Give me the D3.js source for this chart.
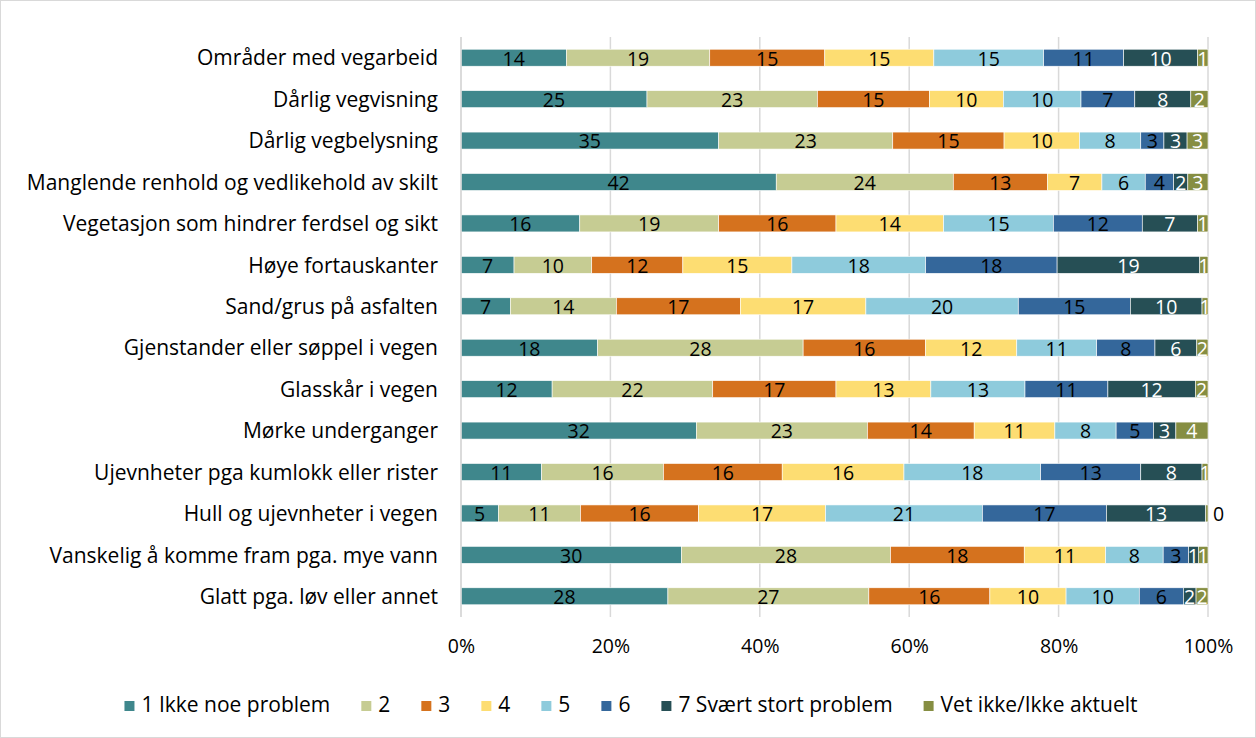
<!DOCTYPE html>
<html>
<head>
<meta charset="utf-8">
<title>Problemer</title>
<script src="https://d3js.org/d3.v7.min.js"></script>
<style>
  body { margin: 0; background: #fff; }
  svg text { font-family: "Open Sans", "Noto Sans", sans-serif; }
</style>
</head>
<body>
<div id="chart"></div>
<script>
// kategorier (ovenfra og ned)
const categories = [
  "Områder med vegarbeid",
  "Dårlig vegvisning",
  "Dårlig vegbelysning",
  "Manglende renhold og vedlikehold av skilt",
  "Vegetasjon som hindrer ferdsel og sikt",
  "Høye fortauskanter",
  "Sand/grus på asfalten",
  "Gjenstander eller søppel i vegen",
  "Glasskår i vegen",
  "Mørke underganger",
  "Ujevnheter pga kumlokk eller rister",
  "Hull og ujevnheter i vegen",
  "Vanskelig å komme fram pga. mye vann",
  "Glatt pga. løv eller annet"
];

const seriesNames = ["1 Ikke noe problem", "2", "3", "4", "5", "6", "7 Svært stort problem", "Vet ikke/Ikke aktuelt"];
const colors = ["#3f878c", "#c6cc93", "#d5721e", "#fddd72", "#8ecbdc", "#34679b", "#264f55", "#868e42"];
const labelColors = ["#000", "#000", "#000", "#000", "#000", "#000", "#fff", "#fff"];

// prosent per serie (avlest), samme rekkefølge som categories
const s1 = [14.1, 24.9, 34.5, 42.2, 15.9, 7.1, 6.6, 18.3, 12.2, 31.5, 10.8, 5.0, 29.5, 27.7];
const s2 = [19.2, 22.8, 23.3, 23.7, 18.6, 10.4, 14.2, 27.5, 21.5, 22.9, 16.3, 11.0, 28.0, 26.9];
const s3 = [15.4, 15.0, 14.9, 12.6, 15.7, 12.2, 16.6, 16.4, 16.5, 14.3, 15.9, 15.8, 17.9, 16.2];
const s4 = [14.6, 9.9, 10.1, 7.3, 14.4, 14.6, 16.8, 12.2, 12.7, 10.8, 16.3, 17.0, 10.9, 10.2];
const s5 = [14.7, 10.4, 8.2, 5.8, 14.7, 17.9, 20.4, 10.7, 12.6, 8.2, 18.3, 21.0, 7.7, 9.8];
const s6 = [10.7, 7.2, 3.1, 3.8, 11.9, 17.6, 15.0, 7.8, 11.1, 5.0, 13.4, 16.6, 3.4, 5.9];
const s7 = [9.9, 7.5, 3.1, 1.9, 7.4, 19.1, 9.6, 5.6, 11.7, 3.0, 8.2, 13.3, 1.3, 1.7];
const s8 = [1.4, 2.3, 2.8, 2.7, 1.4, 1.1, 0.8, 1.5, 1.7, 4.3, 0.8, 0.3, 1.3, 1.6];
const allSeries = [s1, s2, s3, s4, s5, s6, s7, s8];

const xTicks = [0, 0.2, 0.4, 0.6, 0.8, 1];

const W = 1256, H = 738;
const svg = d3.select("#chart").append("svg").attr("width", W).attr("height", H);

svg.append("rect").attr("x", 0.5).attr("y", 0.5).attr("width", W - 1).attr("height", H - 1)
  .attr("fill", "#fff").attr("stroke", "#d9d9d9");

const x = d3.scaleLinear().domain([0, 1]).range([461, 1208]);
const y = d3.scaleBand().domain(categories).range([37, 617]).paddingInner(0.59).paddingOuter(0.295);

// gridlines
svg.append("g").selectAll("line").data(xTicks).join("line")
  .attr("x1", d => x(d)).attr("x2", d => x(d))
  .attr("y1", 37).attr("y2", 617)
  .attr("stroke", "#d9d9d9").attr("stroke-width", 1.5);

// rader og stabling (100 %)
const rows = categories.map((c, i) => {
  const r = { cat: c };
  allSeries.forEach((s, k) => r["k" + k] = s[i]);
  return r;
});
const keys = allSeries.map((s, k) => "k" + k);
const stacked = d3.stack().keys(keys).offset(d3.stackOffsetExpand)(rows);

const layers = svg.append("g").selectAll("g").data(stacked).join("g")
  .attr("fill", (d, k) => colors[k]);

layers.selectAll("rect").data(d => d).join("rect")
  .attr("x", d => x(d[0]))
  .attr("width", d => x(d[1]) - x(d[0]))
  .attr("y", d => y(d.data.cat))
  .attr("height", y.bandwidth())
  .attr("stroke", "#fff").attr("stroke-width", 0.6);

// verdietiketter
stacked.forEach((layer, k) => {
  svg.append("g").selectAll("text").data(layer).join("text")
    .attr("x", d => Math.round(d.data["k" + k]) === 0 ? x(d[1]) + 5 : (x(d[0]) + x(d[1])) / 2)
    .attr("y", d => y(d.data.cat) + y.bandwidth() / 2)
    .attr("dy", "0.4em")
    .attr("text-anchor", d => Math.round(d.data["k" + k]) === 0 ? "start" : "middle")
    .attr("font-size", 19.5)
    .attr("fill", d => Math.round(d.data["k" + k]) === 0 ? "#000" : labelColors[k])
    .text(d => Math.round(d.data["k" + k]));
});

// venstre akselinje
svg.append("line").attr("x1", x(0)).attr("x2", x(0)).attr("y1", 37).attr("y2", 617)
  .attr("stroke", "#d9d9d9").attr("stroke-width", 1.5);

// kategorietiketter
svg.append("g").selectAll("text").data(categories).join("text")
  .attr("x", 438)
  .attr("y", d => y(d) + y.bandwidth() / 2)
  .attr("dy", "0.37em")
  .attr("text-anchor", "end")
  .attr("font-size", 21)
  .attr("fill", "#000")
  .text(d => d);

// x-akse
const xAxis = svg.append("g").attr("transform", "translate(0,636)")
  .call(d3.axisBottom(x).tickValues(xTicks).tickFormat(d3.format(".0%")).tickSize(0));
xAxis.select(".domain").remove();
xAxis.selectAll("text").attr("font-size", 19.5).attr("fill", "#000")
  .style("font-family", "'Open Sans', 'Noto Sans', sans-serif");

// tegnforklaring
const legend = svg.append("g");
const items = legend.selectAll("g").data(seriesNames).join("g");
items.append("rect").attr("width", 10).attr("height", 10).attr("y", -11)
  .attr("fill", (d, k) => colors[k]);
items.append("text").attr("x", 17).attr("y", 0)
  .attr("font-size", 21).attr("fill", "#000").text(d => d);
const gap = 31;
let cx = 0;
items.each(function () {
  d3.select(this).attr("transform", `translate(${cx},0)`);
  cx += 17 + this.querySelector("text").getComputedTextLength() + gap;
});
cx -= gap;
legend.attr("transform", `translate(${(W - cx) / 2 + 3},712)`);
</script>
</body>
</html>
